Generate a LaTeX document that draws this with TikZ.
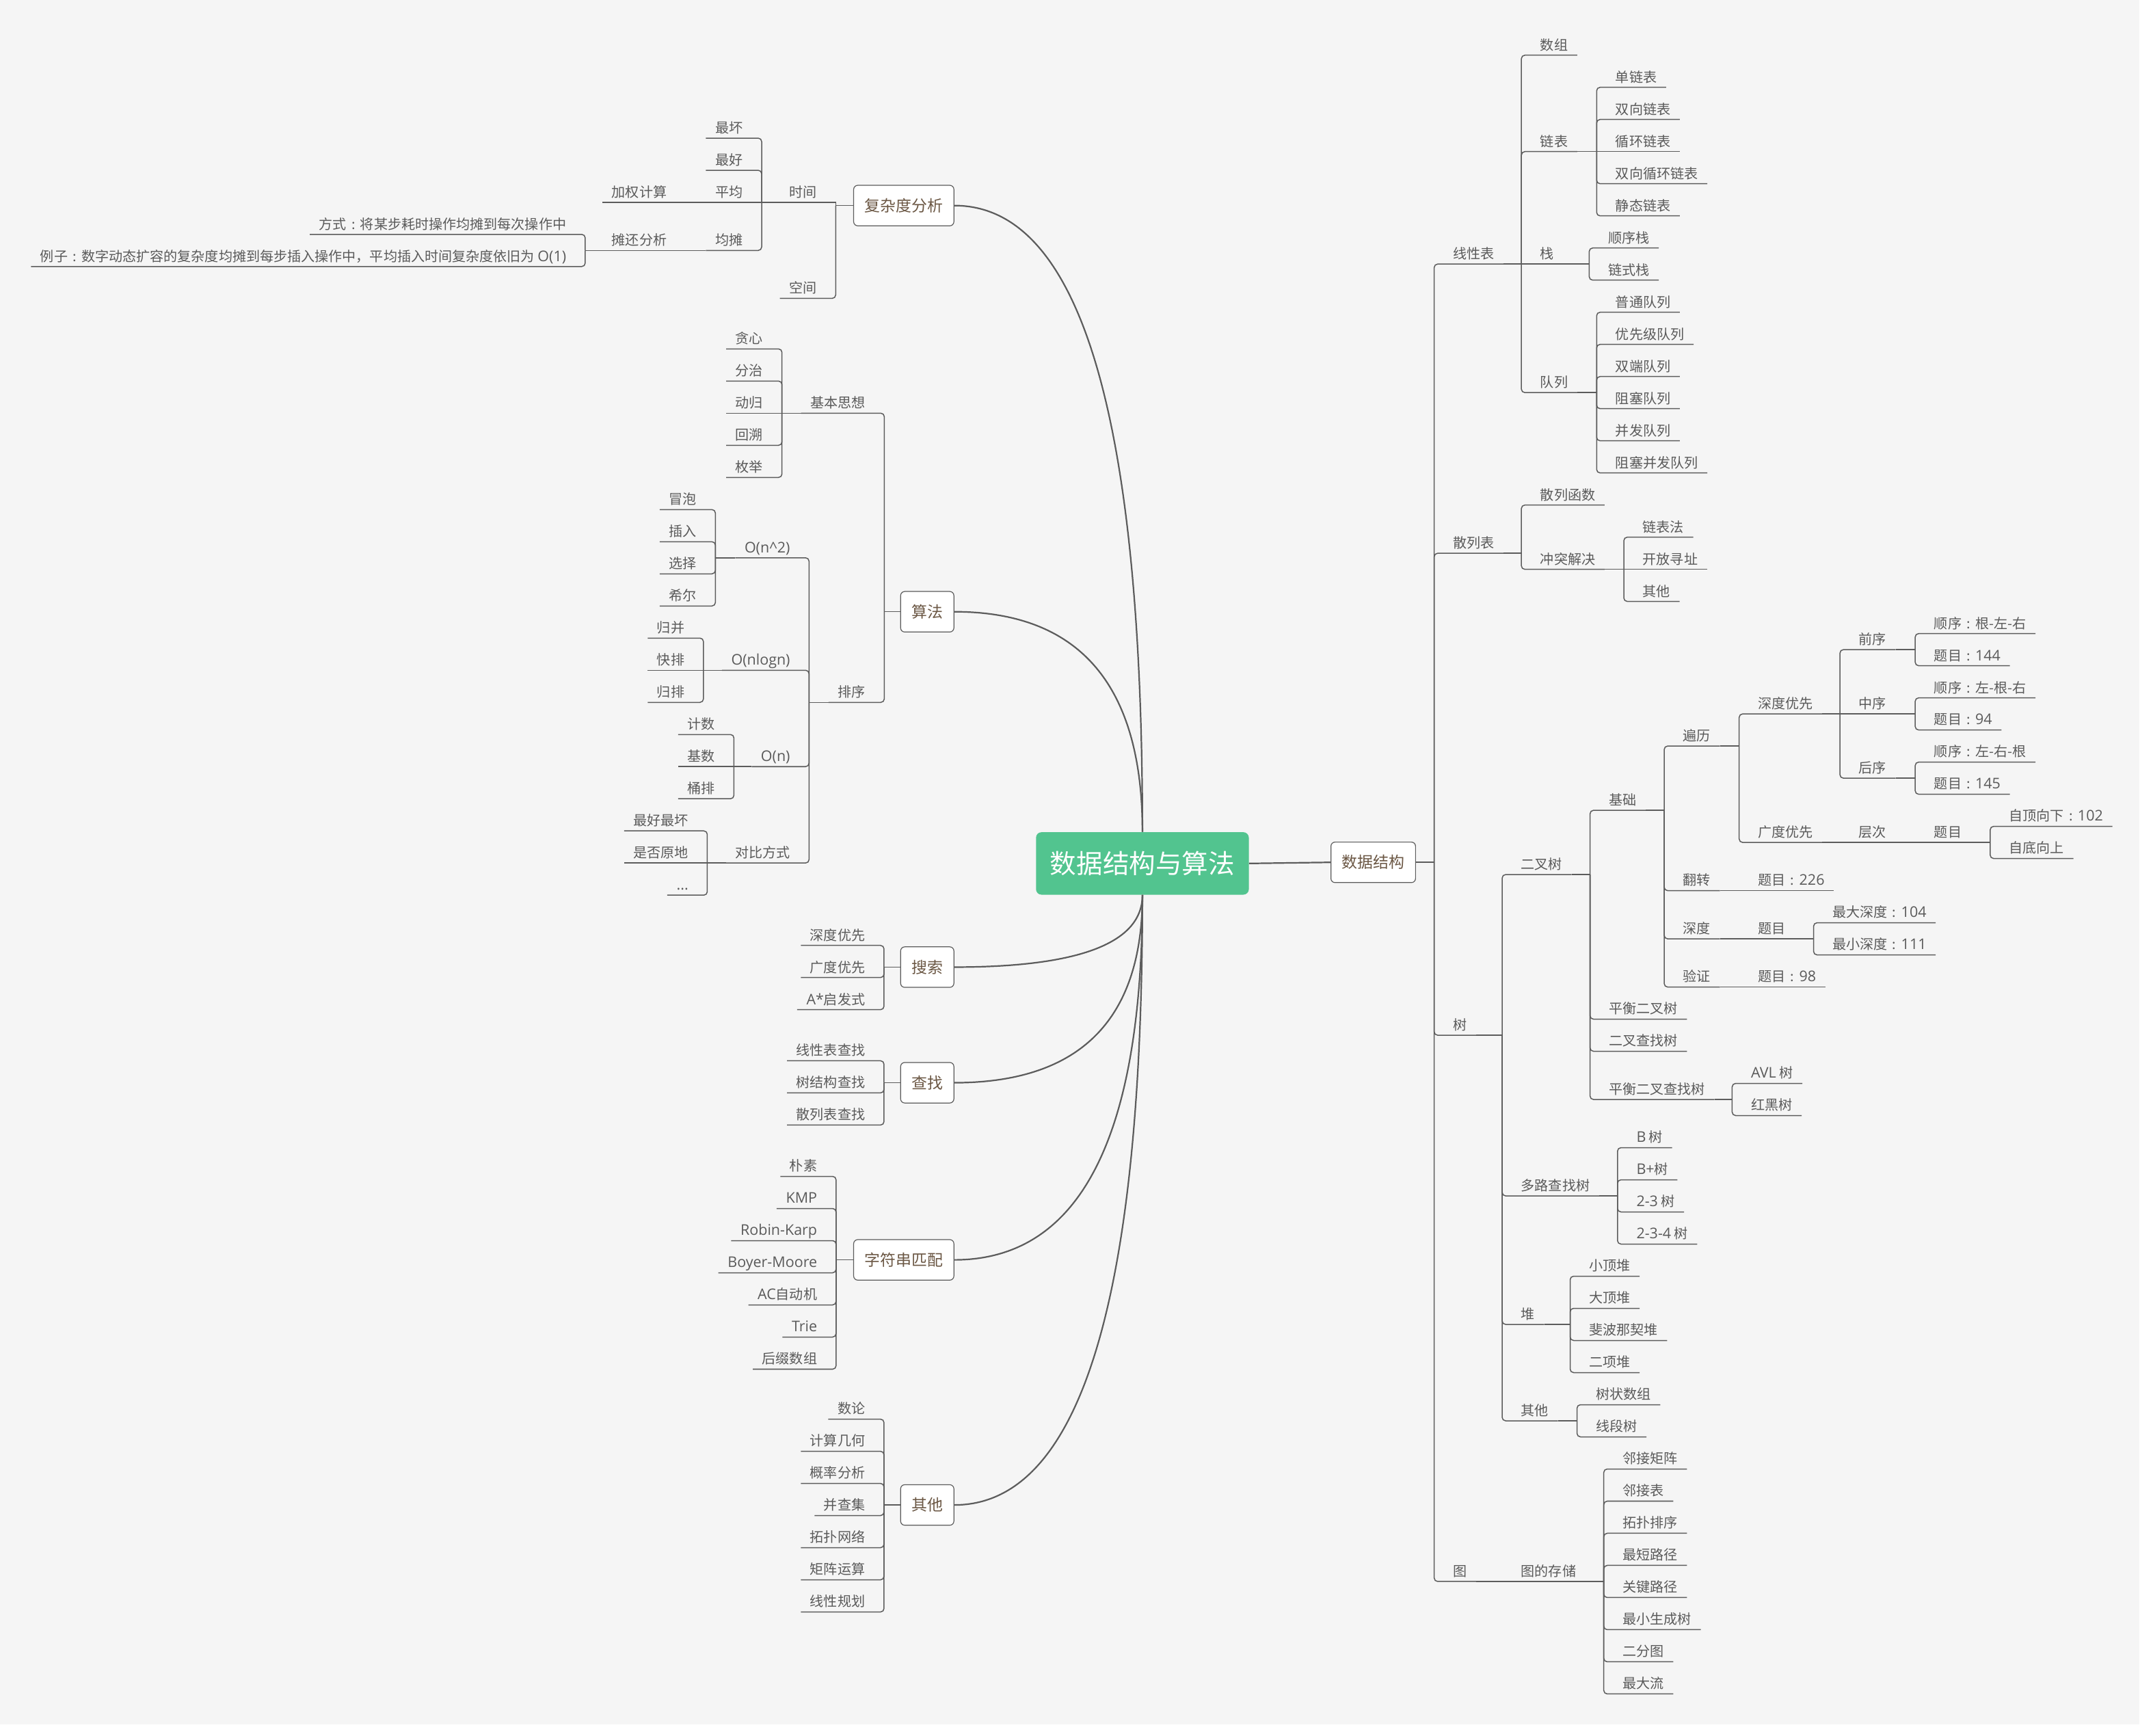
\documentclass[tikz,border=0pt]{standalone}
\usepackage{fontspec}
\setmainfont{Noto Sans CJK SC}
\newfontfamily\latf{Open Sans}[Scale=1.07]
\newcommand\Lx[1]{{\latf #1}}
% full-width colon, centred in its em box
\newcommand\cc{\makebox[1em][c]{:}}
\definecolor{paper}{HTML}{F5F5F5}
\definecolor{ln}{HTML}{5C5C5C}
\definecolor{txt}{HTML}{5A5A5A}
\definecolor{brn}{HTML}{6B5744}
\definecolor{rootgreen}{HTML}{52C48F}

\tikzset{
  leaf/.style={inner sep=0pt, text depth=3.6pt, text height=8pt, text=txt,
    font=\fontsize{10}{12}\selectfont},
  rt/.style={leaf, anchor=south west,
    execute at begin node={\hspace*{13.6pt}}, execute at end node={\hspace*{6.6pt}}},
  lt/.style={leaf, anchor=south east,
    execute at begin node={\hspace*{6.6pt}}, execute at end node={\hspace*{13.6pt}}},
  conn/.style={draw=ln, line width=0.75pt, rounded corners=2.5pt},
  flat/.style={draw=ln, line width=0.75pt, sharp corners},
  topic/.style={draw=ln, line width=0.6pt, fill=white, rounded corners=3pt,
    minimum height=29.5pt, inner xsep=8pt, inner ysep=0pt, text=brn,
    font=\fontsize{11.4}{13}\selectfont},
  main/.style={draw=ln, line width=1.1pt},
}

% right-hand branches: stem to the children's trunk, elbow to a child, straight to a child
\newcommand\Rstem[2]{\coordinate (#1-t) at (#2,0 |- #1.south); \draw[flat] (#1.south east) -- (#1-t);}
\newcommand\Rkid[2]{\draw[conn] (#1-t) |- (#2.south east);}
\newcommand\Rflat[2]{\draw[flat] (#1-t) |- (#2.south east);}
% left-hand branches
\newcommand\Lstem[2]{\coordinate (#1-t) at (#2,0 |- #1.south); \draw[flat] (#1.south west) -- (#1-t);}
\newcommand\Lkid[2]{\draw[conn] (#1-t) |- (#2.south west);}
\newcommand\Lflat[2]{\draw[flat] (#1-t) |- (#2.south west);}

\begin{document}
\begin{tikzpicture}[x=1pt,y=-1pt]
\useasboundingbox (0,0) rectangle (1568,1263.8);
\fill[white] (0,0) rectangle (1568,1263.8);
\fill[paper] (0,0) rectangle (1558.1,1256);

% ---------- root ----------
\node[fill=rootgreen, rounded corners=4pt, minimum width=155pt, minimum height=45.5pt,
      inner sep=0pt, text=white, font=\fontsize{19.2}{23}\selectfont] (root) at (832,628.8) {数据结构与算法};

% ---------- data structures ----------
\node[topic, anchor=west] (ds) at (969,628) {数据结构};
\draw[main] (root.east) -- (ds.west);
\coordinate (ds-t) at (1044.5,0 |- ds.east);
\draw[flat] (ds.east) -- (ds-t);

\node[rt] (lin) at (1044.5,192.3) {线性表};
\node[rt] (hsb) at (1044.5,402.9) {散列表};
\node[rt] (tree) at (1044.5,753.9) {树};
\node[rt] (graph) at (1044.5,1151.7) {图};
\Rkid{ds}{lin}\Rkid{ds}{hsb}\Rkid{ds}{tree}\Rkid{ds}{graph}

% linear lists
\Rstem{lin}{1108}
\node[rt] (arr) at (1108,40.2) {数组};
\node[rt] (ll) at (1108,110.4) {链表};
\node[rt] (stk) at (1108,192.3) {栈};
\node[rt] (que) at (1108,285.9) {队列};
\Rkid{lin}{arr}\Rkid{lin}{ll}\Rflat{lin}{stk}\Rkid{lin}{que}

\Rstem{ll}{1162.8}
\node[rt] (ll1) at (1162.8,63.6) {单链表};
\node[rt] (ll2) at (1162.8,87.0) {双向链表};
\node[rt] (ll3) at (1162.8,110.4) {循环链表};
\node[rt] (ll4) at (1162.8,133.8) {双向循环链表};
\node[rt] (ll5) at (1162.8,157.2) {静态链表};
\Rkid{ll}{ll1}\Rkid{ll}{ll2}\Rflat{ll}{ll3}\Rkid{ll}{ll4}\Rkid{ll}{ll5}

\Rstem{stk}{1157.4}
\node[rt] (st1) at (1157.4,180.6) {顺序栈};
\node[rt] (st2) at (1157.4,204.0) {链式栈};
\Rkid{stk}{st1}\Rkid{stk}{st2}

\Rstem{que}{1162.8}
\node[rt] (q1) at (1162.8,227.4) {普通队列};
\node[rt] (q2) at (1162.8,250.8) {优先级队列};
\node[rt] (q3) at (1162.8,274.2) {双端队列};
\node[rt] (q4) at (1162.8,297.6) {阻塞队列};
\node[rt] (q5) at (1162.8,321.0) {并发队列};
\node[rt] (q6) at (1162.8,344.4) {阻塞并发队列};
\Rkid{que}{q1}\Rkid{que}{q2}\Rkid{que}{q3}\Rkid{que}{q4}\Rkid{que}{q5}\Rkid{que}{q6}

% hash tables
\Rstem{hsb}{1108}
\node[rt] (hf) at (1108,367.8) {散列函数};
\node[rt] (hc) at (1108,414.6) {冲突解决};
\Rkid{hsb}{hf}\Rkid{hsb}{hc}
\Rstem{hc}{1182.6}
\node[rt] (hc1) at (1182.6,391.2) {链表法};
\node[rt] (hc2) at (1182.6,414.6) {开放寻址};
\node[rt] (hc3) at (1182.6,438.0) {其他};
\Rkid{hc}{hc1}\Rflat{hc}{hc2}\Rkid{hc}{hc3}

% trees
\Rstem{tree}{1094}
\node[rt] (bt) at (1094,636.9) {二叉树};
\node[rt] (mt) at (1094,870.9) {多路查找树};
\node[rt] (heap) at (1094,964.5) {堆};
\node[rt] (tro) at (1094,1034.7) {其他};
\Rkid{tree}{bt}\Rkid{tree}{mt}\Rkid{tree}{heap}\Rkid{tree}{tro}

\Rstem{bt}{1158}
\node[rt] (base) at (1158,590.1) {基础};
\node[rt] (bal) at (1158,742.2) {平衡二叉树};
\node[rt] (bst) at (1158,765.6) {二叉查找树};
\node[rt] (bbst) at (1158,800.7) {平衡二叉查找树};
\Rkid{bt}{base}\Rkid{bt}{bal}\Rkid{bt}{bst}\Rkid{bt}{bbst}

\Rstem{base}{1212}
\node[rt] (trav) at (1212,543.3) {遍历};
\node[rt] (flip) at (1212,648.6) {翻转};
\node[rt] (dep) at (1212,683.7) {深度};
\node[rt] (ver) at (1212,718.8) {验证};
\Rkid{base}{trav}\Rkid{base}{flip}\Rkid{base}{dep}\Rkid{base}{ver}

\Rstem{trav}{1266.6}
\node[rt] (dfs) at (1266.6,519.9) {深度优先};
\node[rt] (bfs) at (1266.6,613.5) {广度优先};
\Rkid{trav}{dfs}\Rkid{trav}{bfs}

\Rstem{dfs}{1340}
\node[rt] (pre) at (1340,473.1) {前序};
\node[rt] (ino) at (1340,519.9) {中序};
\node[rt] (post) at (1340,566.7) {后序};
\Rkid{dfs}{pre}\Rflat{dfs}{ino}\Rkid{dfs}{post}

\Rstem{pre}{1394.8}
\node[rt] (pre1) at (1394.8,461.4) {顺序\cc 根-左-右};
\node[rt] (pre2) at (1394.8,484.8) {题目\cc\Lx{144}};
\Rkid{pre}{pre1}\Rkid{pre}{pre2}
\Rstem{ino}{1394.8}
\node[rt] (ino1) at (1394.8,508.2) {顺序\cc 左-根-右};
\node[rt] (ino2) at (1394.8,531.6) {题目\cc\Lx{94}};
\Rkid{ino}{ino1}\Rkid{ino}{ino2}
\Rstem{post}{1394.8}
\node[rt] (post1) at (1394.8,555.0) {顺序\cc 左-右-根};
\node[rt] (post2) at (1394.8,578.4) {题目\cc\Lx{145}};
\Rkid{post}{post1}\Rkid{post}{post2}

\Rstem{bfs}{1340}
\node[rt] (lvl) at (1340,613.5) {层次};
\Rflat{bfs}{lvl}
\Rstem{lvl}{1394.8}
\node[rt] (lq) at (1394.8,613.5) {题目};
\Rflat{lvl}{lq}
\Rstem{lq}{1449.4}
\node[rt] (lq1) at (1449.4,601.8) {自顶向下\cc\Lx{102}};
\node[rt] (lq2) at (1449.4,625.2) {自底向上};
\Rkid{lq}{lq1}\Rkid{lq}{lq2}

\Rstem{flip}{1266.6}
\node[rt] (fq) at (1266.6,648.6) {题目\cc\Lx{226}};
\Rflat{flip}{fq}

\Rstem{dep}{1266.6}
\node[rt] (dq) at (1266.6,683.7) {题目};
\Rflat{dep}{dq}
\Rstem{dq}{1320.8}
\node[rt] (dq1) at (1320.8,672.0) {最大深度\cc\Lx{104}};
\node[rt] (dq2) at (1320.8,695.4) {最小深度\cc\Lx{111}};
\Rkid{dq}{dq1}\Rkid{dq}{dq2}

\Rstem{ver}{1266.6}
\node[rt] (vq) at (1266.6,718.8) {题目\cc\Lx{98}};
\Rflat{ver}{vq}

\Rstem{bbst}{1261.5}
\node[rt] (avl) at (1261.5,789.0) {\Lx{AVL} 树};
\node[rt] (rb) at (1261.5,812.4) {红黑树};
\Rkid{bbst}{avl}\Rkid{bbst}{rb}

\Rstem{mt}{1178}
\node[rt] (m1) at (1178,835.8) {\Lx{B} 树};
\node[rt] (m2) at (1178,859.2) {\Lx{B+}树};
\node[rt] (m3) at (1178,882.6) {\Lx{2-3} 树};
\node[rt] (m4) at (1178,906.0) {\Lx{2-3-4} 树};
\Rkid{mt}{m1}\Rkid{mt}{m2}\Rkid{mt}{m3}\Rkid{mt}{m4}

\Rstem{heap}{1143.5}
\node[rt] (hp1) at (1143.5,929.4) {小顶堆};
\node[rt] (hp2) at (1143.5,952.8) {大顶堆};
\node[rt] (hp3) at (1143.5,976.2) {斐波那契堆};
\node[rt] (hp4) at (1143.5,999.6) {二项堆};
\Rkid{heap}{hp1}\Rkid{heap}{hp2}\Rkid{heap}{hp3}\Rkid{heap}{hp4}

\Rstem{tro}{1148.5}
\node[rt] (to1) at (1148.5,1023.0) {树状数组};
\node[rt] (to2) at (1148.5,1046.4) {线段树};
\Rkid{tro}{to1}\Rkid{tro}{to2}

% graphs
\Rstem{graph}{1094}
\node[rt] (gs) at (1094,1151.7) {图的存储};
\Rflat{graph}{gs}
\Rstem{gs}{1168}
\node[rt] (g1) at (1168,1069.8) {邻接矩阵};
\node[rt] (g2) at (1168,1093.2) {邻接表};
\node[rt] (g3) at (1168,1116.6) {拓扑排序};
\node[rt] (g4) at (1168,1140.0) {最短路径};
\node[rt] (g5) at (1168,1163.4) {关键路径};
\node[rt] (g6) at (1168,1186.8) {最小生成树};
\node[rt] (g7) at (1168,1210.2) {二分图};
\node[rt] (g8) at (1168,1233.6) {最大流};
\Rkid{gs}{g1}\Rkid{gs}{g2}\Rkid{gs}{g3}\Rkid{gs}{g4}
\Rkid{gs}{g5}\Rkid{gs}{g6}\Rkid{gs}{g7}\Rkid{gs}{g8}

% ---------- complexity analysis ----------
\node[topic, anchor=east] (fz) at (695,149.7) {复杂度分析};
\draw[main] (fz.east) .. controls (786.3,149.7) and (832,301.8) .. (root.north);
\coordinate (fz-t) at (608.6,0 |- fz.west);
\draw[flat] (fz.west) -- (fz-t);
\node[lt] (time) at (608.6,147.35) {时间};
\node[lt] (space) at (608.6,217.3) {空间};
\Lflat{fz}{time}\Lkid{fz}{space}

\Lstem{time}{554.7}
\node[lt] (worst) at (554.7,100.6) {最坏};
\node[lt] (best) at (554.7,124.0) {最好};
\node[lt] (avg) at (554.7,147.35) {平均};
\node[lt] (amort) at (554.7,182.4) {均摊};
\Lkid{time}{worst}\Lkid{time}{best}\Lflat{time}{avg}\Lkid{time}{amort}

\Lstem{avg}{499.4}
\node[lt] (wavg) at (499.4,147.35) {加权计算};
\Lflat{avg}{wavg}
\Lstem{amort}{499.4}
\node[lt] (aa) at (499.4,182.4) {摊还分析};
\Lflat{amort}{aa}
\Lstem{aa}{426.2}
\node[lt] (way) at (426.2,170.7) {方式\cc 将某步耗时操作均摊到每次操作中};
\node[lt] (eg) at (426.2,194.1) {例子\cc 数字动态扩容的复杂度均摊到每步插入操作中，平均插入时间复杂度依旧为 \Lx{O(1)}};
\Lkid{aa}{way}\Lkid{aa}{eg}

% ---------- algorithms ----------
\node[topic, anchor=east] (alg) at (695,445.5) {算法};
\draw[main] (alg.east) .. controls (786.3,445.5) and (832,499) .. (root.north);
\coordinate (alg-t) at (644,0 |- alg.west);
\draw[flat] (alg.west) -- (alg-t);
\node[lt] (idea) at (644,300.9) {基本思想};
\node[lt] (sort) at (644,511.5) {排序};
\Lkid{alg}{idea}\Lkid{alg}{sort}

\Lstem{idea}{569.5}
\node[lt] (i1) at (569.5,254.1) {贪心};
\node[lt] (i2) at (569.5,277.5) {分治};
\node[lt] (i3) at (569.5,300.9) {动归};
\node[lt] (i4) at (569.5,324.3) {回溯};
\node[lt] (i5) at (569.5,347.7) {枚举};
\Lkid{idea}{i1}\Lkid{idea}{i2}\Lflat{idea}{i3}\Lkid{idea}{i4}\Lkid{idea}{i5}

\Lstem{sort}{589.2}
\node[lt] (on2) at (589.2,406.2) {\Lx{O(n\textasciicircum 2)}};
\node[lt] (onl) at (589.2,488.1) {\Lx{O(nlogn)}};
\node[lt] (on) at (589.2,558.3) {\Lx{O(n)}};
\node[lt] (cmp) at (589.2,628.5) {对比方式};
\Lkid{sort}{on2}\Lkid{sort}{onl}\Lkid{sort}{on}\Lkid{sort}{cmp}

\Lstem{on2}{521}
\node[lt] (s1) at (521,371.1) {冒泡};
\node[lt] (s2) at (521,394.5) {插入};
\node[lt] (s3) at (521,417.9) {选择};
\node[lt] (s4) at (521,441.3) {希尔};
\Lkid{on2}{s1}\Lkid{on2}{s2}\Lkid{on2}{s3}\Lkid{on2}{s4}

\Lstem{onl}{512.3}
\node[lt] (s5) at (512.3,464.7) {归并};
\node[lt] (s6) at (512.3,488.1) {快排};
\node[lt] (s7) at (512.3,511.5) {归排};
\Lkid{onl}{s5}\Lflat{onl}{s6}\Lkid{onl}{s7}

\Lstem{on}{534.5}
\node[lt] (s8) at (534.5,534.9) {计数};
\node[lt] (s9) at (534.5,558.3) {基数};
\node[lt] (s10) at (534.5,581.7) {桶排};
\Lkid{on}{s8}\Lflat{on}{s9}\Lkid{on}{s10}

\Lstem{cmp}{515.1}
\node[lt] (c1) at (515.1,605.1) {最好最坏};
\node[lt] (c2) at (515.1,628.5) {是否原地};
\node[lt] (c3) at (515.1,651.9) {\Lx{...}};
\Lkid{cmp}{c1}\Lflat{cmp}{c2}\Lkid{cmp}{c3}

% ---------- search ----------
\node[topic, anchor=east] (ss) at (695,704.3) {搜索};
\draw[main] (ss.east) .. controls (786.3,704.3) and (832,686.7) .. (root.south);
\coordinate (ss-t) at (643.8,0 |- ss.west);
\draw[flat] (ss.west) -- (ss-t);
\node[lt] (ss1) at (643.8,688.5) {深度优先};
\node[lt] (ss2) at (643.8,711.9) {广度优先};
\node[lt] (ss3) at (643.8,735.3) {\Lx{A*}启发式};
\Lkid{ss}{ss1}\Lkid{ss}{ss2}\Lkid{ss}{ss3}

% ---------- lookup ----------
\node[topic, anchor=east] (cz) at (695,788.5) {查找};
\draw[main] (cz.east) .. controls (786.3,788.5) and (832,742.8) .. (root.south);
\coordinate (cz-t) at (643.8,0 |- cz.west);
\draw[flat] (cz.west) -- (cz-t);
\node[lt] (cz1) at (643.8,772.5) {线性表查找};
\node[lt] (cz2) at (643.8,795.9) {树结构查找};
\node[lt] (cz3) at (643.8,819.3) {散列表查找};
\Lkid{cz}{cz1}\Lkid{cz}{cz2}\Lkid{cz}{cz3}

% ---------- string matching ----------
\node[topic, anchor=east] (zf) at (695,917.5) {字符串匹配};
\draw[main] (zf.east) .. controls (786.3,917.5) and (832,828.8) .. (root.south);
\coordinate (zf-t) at (608.9,0 |- zf.west);
\draw[flat] (zf.west) -- (zf-t);
\node[lt] (zf1) at (608.9,856.7) {朴素};
\node[lt] (zf2) at (608.9,880.1) {\Lx{KMP}};
\node[lt] (zf3) at (608.9,903.5) {\Lx{Robin-Karp}};
\node[lt] (zf4) at (608.9,926.9) {\Lx{Boyer-Moore}};
\node[lt] (zf5) at (608.9,950.3) {\Lx{AC}自动机};
\node[lt] (zf6) at (608.9,973.7) {\Lx{Trie}};
\node[lt] (zf7) at (608.9,997.1) {后缀数组};
\Lkid{zf}{zf1}\Lkid{zf}{zf2}\Lkid{zf}{zf3}\Lkid{zf}{zf4}
\Lkid{zf}{zf5}\Lkid{zf}{zf6}\Lkid{zf}{zf7}

% ---------- other topics ----------
\node[topic, anchor=east] (qt) at (695,1096) {其他};
\draw[main] (qt.east) .. controls (786.3,1096) and (832,947.8) .. (root.south);
\coordinate (qt-t) at (643.8,0 |- qt.west);
\draw[flat] (qt.west) -- (qt-t);
\node[lt] (qt1) at (643.8,1033.5) {数论};
\node[lt] (qt2) at (643.8,1056.9) {计算几何};
\node[lt] (qt3) at (643.8,1080.3) {概率分析};
\node[lt] (qt4) at (643.8,1103.7) {并查集};
\node[lt] (qt5) at (643.8,1127.1) {拓扑网络};
\node[lt] (qt6) at (643.8,1150.5) {矩阵运算};
\node[lt] (qt7) at (643.8,1173.9) {线性规划};
\Lkid{qt}{qt1}\Lkid{qt}{qt2}\Lkid{qt}{qt3}\Lkid{qt}{qt4}
\Lkid{qt}{qt5}\Lkid{qt}{qt6}\Lkid{qt}{qt7}

\end{tikzpicture}
\end{document}
